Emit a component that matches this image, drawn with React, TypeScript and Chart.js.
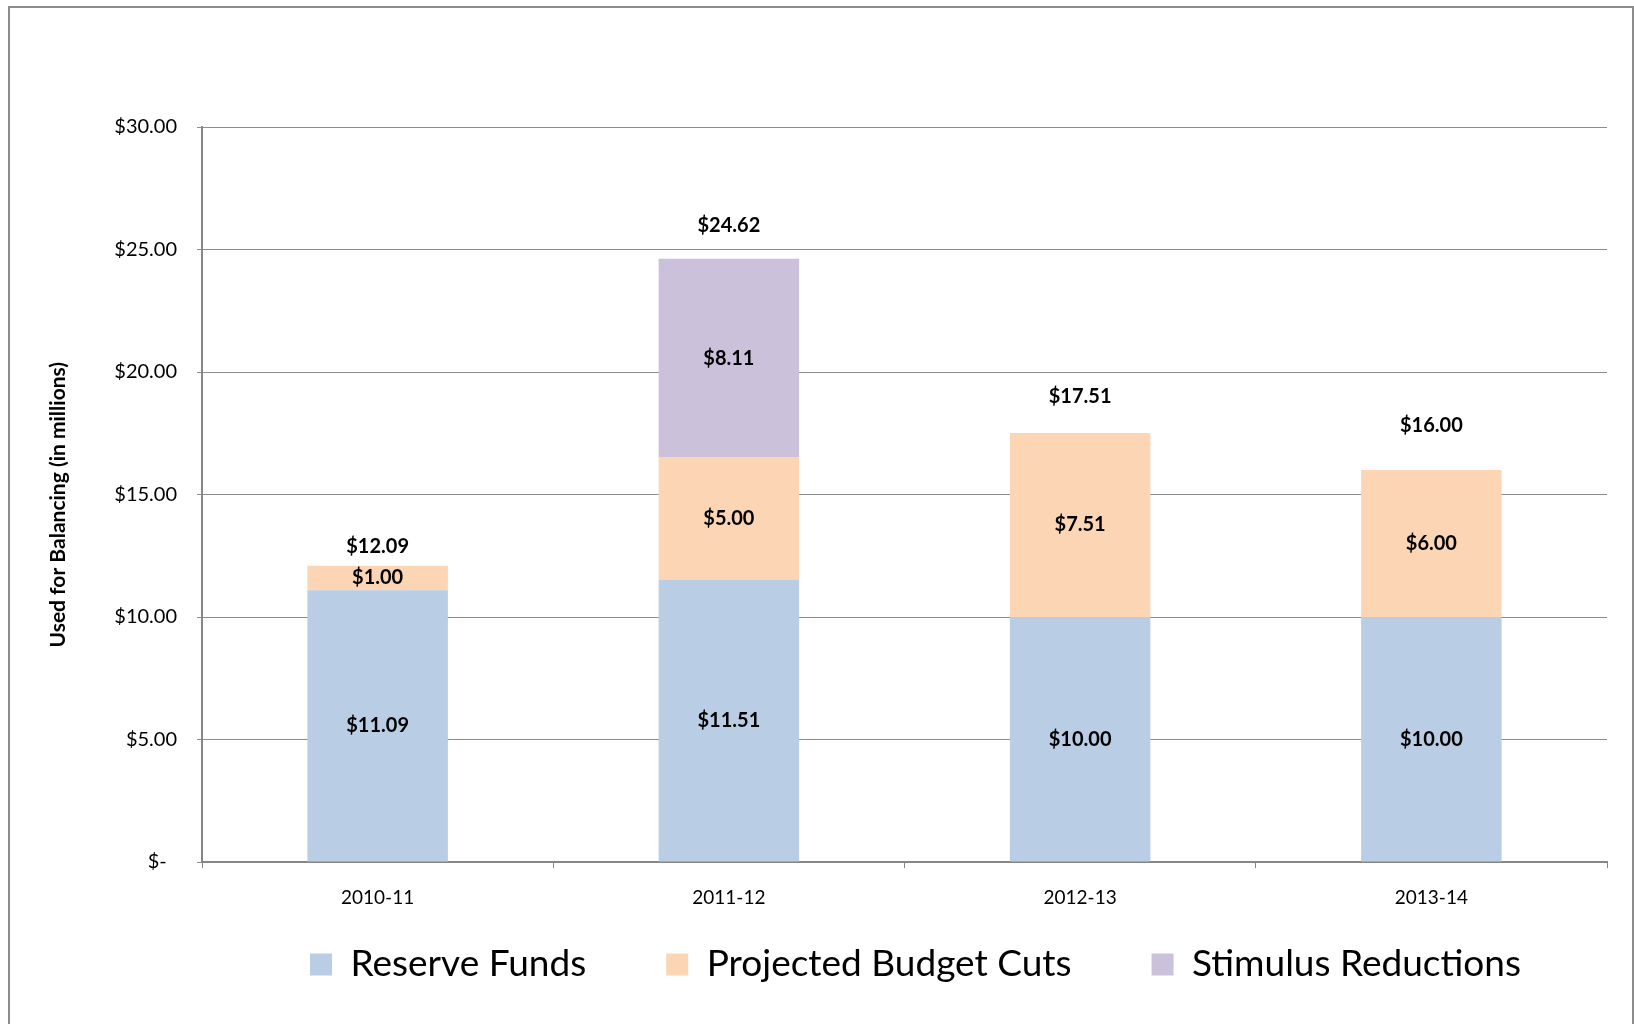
import React, { useEffect, useRef } from "react";
import { Chart, registerables } from "chart.js";

Chart.register(...registerables);

const categories = ["2010-11", "2011-12", "2012-13", "2013-14"];
const seriesNames = ["Reserve Funds", "Projected Budget Cuts", "Stimulus Reductions"];
const reserveFunds = [11.09, 11.51, 10.0, 10.0];
const projectedBudgetCuts = [1.0, 5.0, 7.51, 6.0];
const stimulusReductions = [0, 8.11, 0, 0];
const totals = [12.09, 24.62, 17.51, 16.0];
const yTickValues = [0, 5, 10, 15, 20, 25, 30];
const yTickLabels = ["$-  ", "$5.00", "$10.00", "$15.00", "$20.00", "$25.00", "$30.00"];
const yAxisTitle = "Used for Balancing (in millions)";

const seriesColors = ["#B9CDE5", "#FCD5B5", "#CCC1DA"];
const totalLabelLift = [19, 33, 36, 44];
const FONT = "Lato";

const fmt = (v: number) => "$" + v.toFixed(2);

const labelPlugin = {
  id: "barLabels",
  afterDatasetsDraw(chart: any) {
    const ctx = chart.ctx;
    ctx.save();
    ctx.font = `bold 20px ${FONT}`;
    ctx.fillStyle = "#000";
    ctx.textAlign = "center";
    ctx.textBaseline = "middle";
    chart.data.datasets.forEach((ds: any, di: number) => {
      const meta = chart.getDatasetMeta(di);
      meta.data.forEach((el: any, i: number) => {
        const v = ds.data[i];
        if (!v) return;
        const p = el.getProps(["x", "y", "base"], true);
        ctx.fillText(fmt(v), p.x, (p.y + p.base) / 2);
      });
    });
    const xs = chart.scales.x;
    const ys = chart.scales.y;
    totals.forEach((t, i) => {
      ctx.fillText(fmt(t), xs.getPixelForValue(i), ys.getPixelForValue(t) - totalLabelLift[i]);
    });
    ctx.restore();
  },
};

const legendShift = {
  id: "legendShift",
  afterLayout(chart: any) {
    if (chart.legend) {
      chart.legend.left += 11;
      chart.legend.right += 11;
    }
  },
};

export default function App() {
  const ref = useRef<HTMLCanvasElement | null>(null);

  useEffect(() => {
    if (!ref.current) return;
    const seriesData = [reserveFunds, projectedBudgetCuts, stimulusReductions];
    const chart = new Chart(ref.current, {
      type: "bar",
      data: {
        labels: categories,
        datasets: seriesNames.map((name, k) => ({
          label: name,
          data: seriesData[k],
          backgroundColor: seriesColors[k],
          borderWidth: 0,
          categoryPercentage: 0.4,
          barPercentage: 1,
        })),
      },
      options: {
        responsive: false,
        animation: false,
        layout: { padding: { left: 40, right: 27, top: 127, bottom: 31 } },
        plugins: {
          tooltip: { enabled: false },
          legend: {
            position: "bottom",
            fullSize: false,
            labels: {
              font: { family: FONT, size: 37 },
              color: "#000",
              boxWidth: 22,
              boxHeight: 22,
              padding: 80,
            },
          },
        },
        scales: {
          x: {
            stacked: true,
            afterFit: (s: any) => {
              s.height = 4;
            },
            grid: {
              drawOnChartArea: false,
              drawTicks: true,
              tickLength: 6,
              color: "#868686",
              lineWidth: 1,
              offset: true,
            },
            border: { display: true, color: "#868686", width: 2 },
            ticks: {
              font: { family: FONT, size: 19 },
              color: "#000",
              mirror: true,
              padding: -47,
              maxRotation: 0,
              autoSkip: false,
            },
          },
          y: {
            stacked: true,
            min: 0,
            max: 30,
            afterFit: (s: any) => {
              s.width = 162;
            },
            grid: {
              color: "#8c8c8c",
              lineWidth: 1,
              drawTicks: true,
              tickLength: 5,
            },
            border: { display: true, color: "#868686", width: 2 },
            ticks: {
              stepSize: 5,
              font: { family: FONT, size: 20 },
              color: "#000",
              padding: 20,
              callback: (v: any) => {
                const idx = yTickValues.indexOf(Number(v));
                return idx >= 0 ? yTickLabels[idx] : "";
              },
            },
            title: {
              display: true,
              text: yAxisTitle + "    ",
              font: { family: FONT, size: 21, weight: "bold" },
              color: "#000",
              padding: { top: 6, bottom: 0 },
            },
          },
        },
      },
      plugins: [labelPlugin, legendShift],
    } as any);
    return () => chart.destroy();
  }, []);

  return (
    <div style={{ position: "absolute", left: 0, top: 0, width: 1634, height: 1024, overflow: "hidden", background: "#fff" }}>
      <canvas ref={ref} width={1634} height={1024} style={{ position: "absolute", left: 0, top: 0, width: 1634, height: 1024 }} />
      <div
        style={{
          position: "absolute",
          left: 8,
          top: 6,
          width: 1626,
          height: 1018,
          boxSizing: "border-box",
          borderTop: "2px solid #8c8c8c",
          borderLeft: "2px solid #8c8c8c",
          borderRight: "2px solid #8c8c8c",
          pointerEvents: "none",
        }}
      />
    </div>
  );
}
